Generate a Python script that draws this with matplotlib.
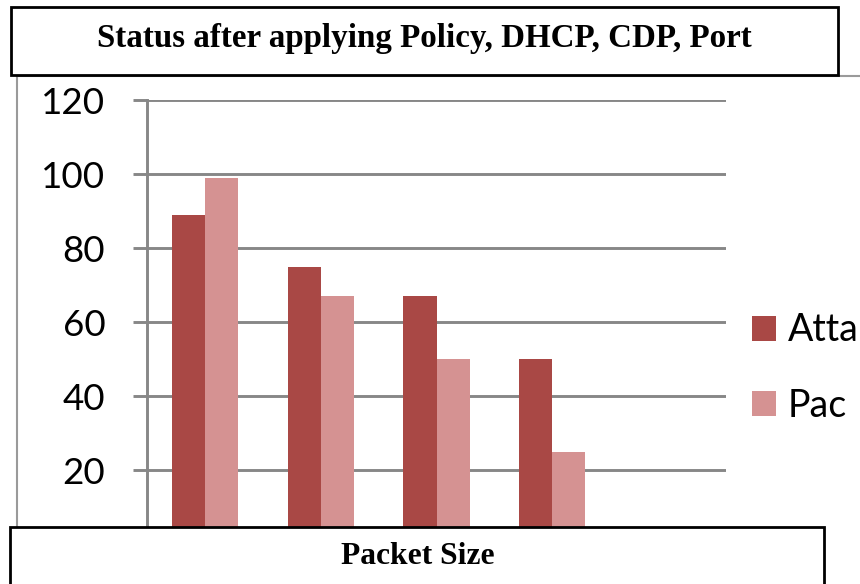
import matplotlib
matplotlib.use("Agg")
import matplotlib.pyplot as plt
from matplotlib.patches import Rectangle
import numpy as np

# Data
categories = ["1", "2", "3", "4"]
attack = [89, 75, 67, 50]
packet = [99, 67, 50, 25]
series_labels = ["Atta", "Pac"]
y_ticks = [20, 40, 60, 80, 100, 120]
title_text = "Status after applying Policy, DHCP, CDP, Port"
xlabel_text = "Packet Size"

W, H = 860, 584
DPI = 100
dark = "#A94845"
light = "#D59292"
grid_gray = "#878787"

fig = plt.figure(figsize=(W / DPI, H / DPI), dpi=DPI)
fig.patch.set_facecolor("white")


def fx(px):
    return px / W


def fy(py):
    return 1 - py / H


# Outer chart frame (mostly hidden behind the boxes)
frame = Rectangle((fx(17), fy(620)), fx(880) - fx(17), fy(76) - fy(620),
                  transform=fig.transFigure, fill=False,
                  edgecolor="#9a9a9a", linewidth=1.5, zorder=0)
fig.add_artist(frame)

# Plot area: value 0 at y=544 px, 120 at y=100 px
ax = fig.add_axes([fx(147), fy(544), fx(726) - fx(147), fy(100) - fy(544)])
ax.set_ylim(0, 120)
ax.set_xlim(-0.5, 4.5)

x = np.arange(len(categories))
bw = 0.285
ax.bar(x - bw / 2, attack, width=bw, color=dark, label=series_labels[0], zorder=3)
ax.bar(x + bw / 2, packet, width=bw, color=light, label=series_labels[1], zorder=3)

ax.set_yticks(y_ticks)
ax.set_yticklabels([str(v) for v in y_ticks], fontfamily="Lato", fontsize=26.5)
ax.yaxis.grid(True, color=grid_gray, linewidth=2.1, zorder=1)
ax.set_axisbelow(True)
ax.tick_params(axis="y", length=10, width=2.1, color=grid_gray, pad=20,
               direction="out")
ax.set_xticks([])
for s in ["top", "right", "bottom"]:
    ax.spines[s].set_visible(False)
ax.spines["left"].set_color(grid_gray)
ax.spines["left"].set_linewidth(2.1)

# Legend at right, clipped by the figure edge
leg = fig.legend(loc="center left", bbox_to_anchor=(fx(752), fy(368)),
                 frameon=False, prop={"family": "Lato", "size": 27},
                 handlelength=0.64, handleheight=0.64, handletextpad=0.32,
                 labelspacing=1.05, borderpad=0, borderaxespad=0)

# Title box
title_box = Rectangle((fx(11), fy(75)), fx(838) - fx(11), fy(7) - fy(75),
                      transform=fig.transFigure, facecolor="white",
                      edgecolor="black", linewidth=2.0, zorder=10)
fig.add_artist(title_box)
t = fig.text(fx(424), fy(39), title_text, ha="center", va="center",
             fontfamily="Liberation Serif", fontweight="bold", fontsize=20,
             zorder=11)

# Bottom label box
bottom_box = Rectangle((fx(10), fy(620)), fx(824) - fx(10), fy(527) - fy(620),
                       transform=fig.transFigure, facecolor="white",
                       edgecolor="black", linewidth=2.0, zorder=10)
fig.add_artist(bottom_box)
xl = fig.text(fx(418), fy(557), xlabel_text, ha="center", va="center",
              fontfamily="Liberation Serif", fontweight="bold", fontsize=20,
              zorder=11)

# Fit the box texts to their rendered widths
renderer = fig.canvas.get_renderer()
for txt, target in ((t, 653), (xl, 153)):
    w = txt.get_window_extent(renderer).width
    txt.set_fontsize(txt.get_fontsize() * target / w)

fig.savefig("out.png", dpi=DPI, facecolor="white")
